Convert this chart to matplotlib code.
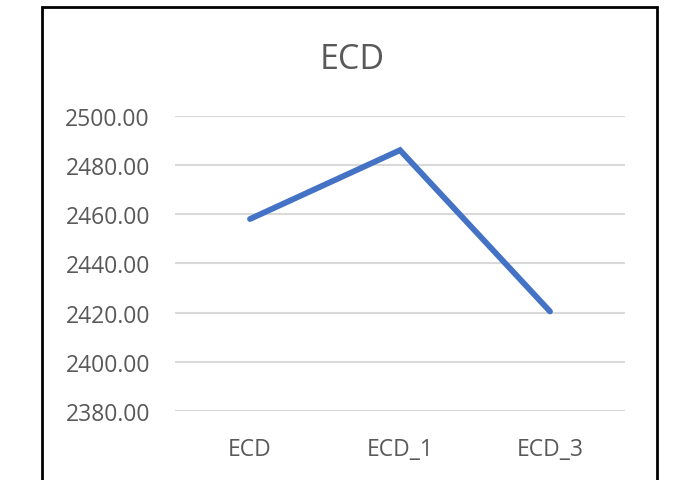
import matplotlib.pyplot as plt
from matplotlib.patches import Rectangle

# Chart data
categories = ['ECD', 'ECD_1', 'ECD_3']
values = [2458.1, 2486.1, 2420.5]
yticks = [2380, 2400, 2420, 2440, 2460, 2480, 2500]

plt.rcParams['font.family'] = ['Open Sans', 'DejaVu Sans']

fig = plt.figure(figsize=(6.78, 4.81), dpi=100)
ax = fig.add_axes([175 / 678, 1 - 412 / 481, 450 / 678, 295 / 481])

ax.plot(range(len(categories)), values, color='#4472C4', linewidth=4.2,
        solid_capstyle='round', solid_joinstyle='miter', zorder=3)

ax.set_xlim(-0.5, len(categories) - 0.5)
ax.set_ylim(yticks[0], yticks[-1])
ax.set_yticks(yticks)
ax.set_yticklabels([f'{v:.2f}' for v in yticks])
ax.set_xticks(range(len(categories)))
ax.set_xticklabels(categories)
ax.grid(axis='y', color='#D9D9D9', linewidth=1.5)
ax.set_axisbelow(True)
for s in ax.spines.values():
    s.set_visible(False)
ax.tick_params(length=0, labelsize=16.5, labelcolor='#595959')
ax.tick_params(axis='y', pad=18)
ax.tick_params(axis='x', pad=19)

fig.text(352 / 678, 1 - 60 / 481, 'ECD', ha='center', va='center',
         fontsize=24.5, color='#595959')

# chart border
fig.patches.append(Rectangle((42 / 678, -0.1), 615 / 678, 1.1 - 8 / 481,
                             transform=fig.transFigure, fill=False,
                             edgecolor='black', linewidth=2))

fig.savefig('out.png', dpi=100, facecolor='white')
